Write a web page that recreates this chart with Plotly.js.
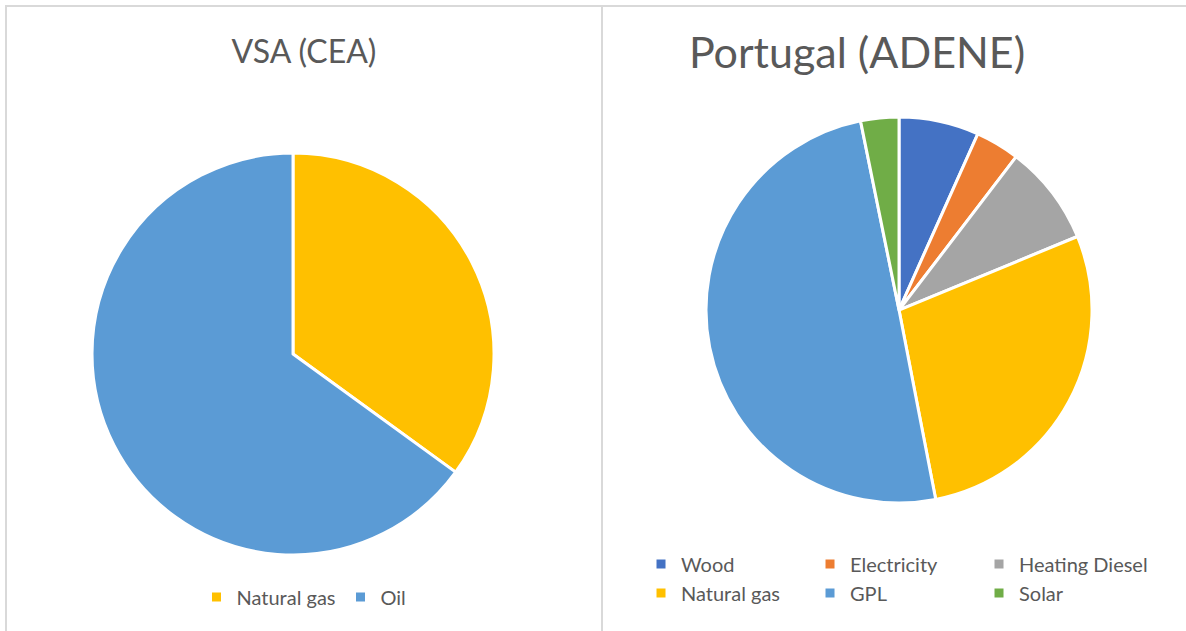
<!DOCTYPE html>
<html>
<head>
<meta charset="utf-8">
<script src="https://cdn.plot.ly/plotly-3.0.1.min.js"></script>
<style>
  html, body { margin: 0; padding: 0; background: #ffffff; width: 1186px; height: 631px; overflow: hidden; }
  .line { position: absolute; background: #d9d9d9; z-index: 5; }
  .chart { position: absolute; }
</style>
</head>
<body>
<div class="line" style="left:5px; top:5px; width:1181px; height:2px;"></div>
<div class="line" style="left:5px; top:5px; width:2px; height:626px;"></div>
<div class="line" style="left:601px; top:5px; width:2px; height:626px;"></div>
<div id="left" class="chart" style="left:7px; top:7px; width:594px; height:624px;"></div>
<div id="right" class="chart" style="left:603px; top:7px; width:583px; height:624px;"></div>
<script>
// ---- Data ----
const leftTitle = 'VSA (CEA)';
const leftLabels = ['Natural gas', 'Oil'];
const leftValues = [35, 65];
const leftColors = ['#FFC000', '#5B9BD5'];

const rightTitle = 'Portugal (ADENE)';
const rightLabels = ['Wood', 'Electricity', 'Heating Diesel', 'Natural gas', 'GPL', 'Solar'];
const rightValues = [6.7, 3.7, 8.4, 28.2, 49.9, 3.2];
const rightColors = ['#4472C4', '#ED7D31', '#A5A5A5', '#FFC000', '#5B9BD5', '#70AD47'];

const FONT = 'Lato, "Open Sans", sans-serif';
const TXT = '#595959';
const config = { displayModeBar: false, staticPlot: true };

// ---- Left chart ----
Plotly.newPlot('left', [{
  type: 'pie',
  labels: leftLabels,
  values: leftValues,
  marker: { colors: leftColors, line: { color: '#ffffff', width: 3 } },
  sort: false,
  direction: 'clockwise',
  rotation: 0,
  textinfo: 'none',
  hoverinfo: 'none',
  domain: { x: [0.1431, 0.8199], y: [0.1218, 0.7660] }
}], {
  width: 594, height: 624,
  margin: { l: 0, r: 0, t: 0, b: 0 },
  paper_bgcolor: '#ffffff',
  plot_bgcolor: '#ffffff',
  font: { family: FONT, color: TXT },
  title: {
    text: leftTitle,
    font: { family: FONT, size: 32, color: TXT },
    x: 0.5, xanchor: 'center', xref: 'container',
    y: 0.928, yanchor: 'middle', yref: 'container'
  },
  showlegend: true,
  legend: {
    orientation: 'h',
    x: 0.5, xanchor: 'center',
    y: 0.0857, yanchor: 'top',
    font: { family: FONT, size: 20, color: TXT },
    bgcolor: 'rgba(0,0,0,0)'
  }
}, config);

// ---- Right chart ----
Plotly.newPlot('right', [{
  type: 'pie',
  labels: rightLabels,
  values: rightValues,
  marker: { colors: rightColors, line: { color: '#ffffff', width: 3 } },
  sort: false,
  direction: 'clockwise',
  rotation: 0,
  textinfo: 'none',
  hoverinfo: 'none',
  domain: { x: [0.1767, 0.8388], y: [0.2051, 0.8237] }
}], {
  width: 583, height: 624,
  margin: { l: 0, r: 0, t: 0, b: 0 },
  paper_bgcolor: '#ffffff',
  plot_bgcolor: '#ffffff',
  font: { family: FONT, color: TXT },
  title: {
    text: rightTitle,
    font: { family: FONT, size: 43, color: TXT },
    x: 0.4357, xanchor: 'center', xref: 'container',
    y: 0.926, yanchor: 'middle', yref: 'container'
  },
  showlegend: true,
  legend: {
    orientation: 'h',
    x: 0.0652, xanchor: 'left',
    y: 0.1386, yanchor: 'top',
    entrywidth: 124, entrywidthmode: 'pixels',
    font: { family: FONT, size: 20, color: TXT },
    bgcolor: 'rgba(0,0,0,0)'
  }
}, config);
</script>
</body>
</html>
